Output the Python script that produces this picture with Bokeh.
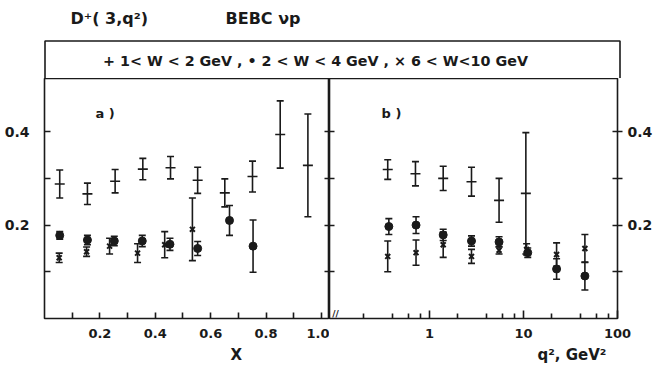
from bokeh.plotting import figure
from bokeh.models import (Range1d, FixedTicker, LinearAxis, LogAxis, Whisker,
                          TeeHead, ColumnDataSource, Label, Title)
from bokeh.layouts import column, row
from bokeh.embed import file_html
from bokeh.resources import INLINE
from bokeh.core.properties import value

# ---------------- data ----------------
# panel a) : versus x
xa_plus = [0.055, 0.155, 0.255, 0.355, 0.455, 0.553, 0.651, 0.751, 0.851, 0.951]
ya_plus = [0.288, 0.267, 0.294, 0.320, 0.323, 0.296, 0.269, 0.304, 0.394, 0.328]
ea_plus = [0.030, 0.023, 0.025, 0.023, 0.024, 0.028, 0.030, 0.033, 0.072, 0.110]

xa_dot = [0.055, 0.155, 0.252, 0.353, 0.453, 0.553, 0.668, 0.753]
ya_dot = [0.178, 0.168, 0.166, 0.166, 0.159, 0.150, 0.210, 0.155]
ea_dot = [0.008, 0.010, 0.010, 0.012, 0.013, 0.015, 0.032, 0.056]

xa_x = [0.053, 0.152, 0.235, 0.336, 0.434, 0.534]
ya_x = [0.130, 0.143, 0.155, 0.140, 0.158, 0.191]
ea_x = [0.010, 0.010, 0.017, 0.020, 0.028, 0.067]

# panel b) : versus q^2
q2_plus = [0.36, 0.71, 1.4, 2.8, 5.5, 10.6]
yb_plus = [0.319, 0.310, 0.300, 0.293, 0.253, 0.268]
eb_plus = [0.021, 0.026, 0.026, 0.031, 0.047, 0.130]

q2_dot = [0.37, 0.72, 1.4, 2.8, 5.5, 11.1, 22.5, 45]
yb_dot = [0.197, 0.200, 0.179, 0.166, 0.164, 0.141, 0.106, 0.091]
eb_dot = [0.017, 0.018, 0.012, 0.011, 0.011, 0.010, 0.022, 0.030]

q2_x = [0.36, 0.72, 1.4, 2.8, 5.5, 10.8, 22.5, 45]
yb_x = [0.133, 0.141, 0.158, 0.133, 0.146, 0.148, 0.137, 0.150]
eb_x = [0.033, 0.027, 0.027, 0.015, 0.008, 0.012, 0.025, 0.030]

x_ticks = [0.1, 0.2, 0.3, 0.4, 0.5, 0.6, 0.7, 0.8, 0.9, 1.0]
x_tick_labels = {0.2: "0.2", 0.4: "0.4", 0.6: "0.6", 0.8: "0.8", 1.0: "1.0"}
q2_ticks = [1, 10, 100]
q2_minor = [0.2, 0.4, 0.6, 0.8, 2, 4, 6, 8, 20, 40, 60, 80]
q2_tick_labels = {1: "1", 10: "10", 100: "100"}
y_ticks = [0.1, 0.2, 0.3, 0.4]
y_tick_labels = {0.2: "0.2", 0.4: "0.4"}

title_text = "D\u207a( 3,q\u00b2)"
title_text2 = "BEBC \u03bdp"
legend_text = "+ 1< W < 2 GeV ,  \u2022 2 < W < 4 GeV ,  \u00d7 6 < W<10 GeV"
xa_label = "X"
xb_label = "q\u00b2, GeV\u00b2"

FONT = "DejaVu Sans"
INK = "#1a1a1a"
LW = 1.6


def clean(p):
    p.grid.visible = False
    p.outline_line_color = INK
    p.outline_line_width = LW
    p.background_fill_color = "white"
    p.border_fill_color = "white"


def style_axis(ax, size="13px"):
    ax.axis_line_color = None
    ax.major_tick_line_color = INK
    ax.major_tick_line_width = LW
    ax.minor_tick_line_color = INK
    ax.minor_tick_line_width = LW
    ax.major_label_text_font = FONT
    ax.major_label_text_font_style = "bold"
    ax.major_label_text_font_size = size
    ax.major_label_text_color = INK


def errbars(p, xs, ys, es, marker, size, lw, head=7):
    src = ColumnDataSource(dict(x=xs, y=ys,
                                lo=[y - e for y, e in zip(ys, es)],
                                hi=[y + e for y, e in zip(ys, es)]))
    w = Whisker(source=src, base="x", lower="lo", upper="hi",
                line_color=INK, line_width=LW,
                lower_head=TeeHead(size=head, line_color=INK, line_width=LW),
                upper_head=TeeHead(size=head, line_color=INK, line_width=LW))
    p.add_layout(w)
    p.scatter("x", "y", source=src, marker=marker, size=size,
              line_color=INK, fill_color=INK, line_width=lw)


# ---------------- header ----------------
hdr = figure(width=655, height=78, x_range=Range1d(0, 655), y_range=Range1d(78, 0),
             output_backend="svg", toolbar_location=None,
             x_axis_location=None, y_axis_location=None,
             min_border=0, min_border_left=0, min_border_right=0,
             min_border_top=0, min_border_bottom=0)
hdr.grid.visible = False
hdr.outline_line_color = None
hdr.line([44.5, 44.5, 619.5, 619.5], [79, 40.5, 40.5, 79], line_color=INK, line_width=LW)
hdr.text([70], [18], text=[title_text], text_font=value(FONT), text_font_style="bold",
         text_font_size="16px", text_baseline="middle", text_color=INK)
hdr.text([225], [18], text=[title_text2], text_font=value(FONT), text_font_style="bold",
         text_font_size="16px", text_baseline="middle", text_color=INK)
hdr.text([320], [60], text=[legend_text], text_font=value(FONT), text_font_style="bold",
         text_font_size="14.3px", text_baseline="middle", text_align="center", text_color=INK)

# ---------------- panel a ----------------
fa = figure(width=329, height=297, x_range=Range1d(0, 1.029), y_range=Range1d(0, 0.514),
            output_backend="svg", toolbar_location=None,
            x_axis_location=None, y_axis_location=None,
            min_border_left=44, min_border_right=0, min_border_top=0, min_border_bottom=57)
clean(fa)

ax = LinearAxis(ticker=FixedTicker(ticks=x_ticks, minor_ticks=[]))
ax.major_label_overrides = {t: x_tick_labels.get(round(t, 1), "") for t in x_ticks}
style_axis(ax)
ax.major_tick_in = 6
ax.major_tick_out = 0
ax.major_label_standoff = 10
fa.add_layout(ax, "below")
fa.add_layout(Title(text=xa_label, align="left", offset=186, standoff=7,
                    text_font=FONT, text_font_style="bold", text_font_size="15px",
                    text_color=INK), "below")

ay = LinearAxis(ticker=FixedTicker(ticks=y_ticks, minor_ticks=[]))
ay.major_label_overrides = {t: y_tick_labels.get(t, "") for t in y_ticks}
style_axis(ay, "14px")
ay.major_tick_in = 6
ay.major_tick_out = 0
ay.major_label_standoff = 15
fa.add_layout(ay, "left")

ay2 = LinearAxis(ticker=FixedTicker(ticks=y_ticks, minor_ticks=[]))
ay2.major_label_overrides = {t: "" for t in y_ticks}
style_axis(ay2, "0px")
ay2.major_tick_in = 5
ay2.major_tick_out = 0
ay2.major_label_standoff = 0
fa.add_layout(ay2, "right")

errbars(fa, xa_plus, ya_plus, ea_plus, "dash", 10, LW)
errbars(fa, xa_dot, ya_dot, ea_dot, "circle", 8, 1)
errbars(fa, xa_x, ya_x, ea_x, "x", 7, 2)

fa.add_layout(Label(x=0.184, y=0.439, text="a )", text_font=FONT, text_font_style="bold",
                    text_font_size="13px", text_baseline="middle", text_color=INK))

# ---------------- panel b ----------------
fb = figure(width=326, height=297, x_axis_type="log", x_range=Range1d(0.0865, 100),
            y_range=Range1d(0, 0.514), output_backend="svg", toolbar_location=None,
            x_axis_location=None, y_axis_location=None,
            min_border_left=0, min_border_right=35, min_border_top=0, min_border_bottom=57)
clean(fb)

bx = LogAxis(ticker=FixedTicker(ticks=q2_ticks, minor_ticks=q2_minor))
bx.major_label_overrides = q2_tick_labels
style_axis(bx)
bx.major_tick_in = 8
bx.major_tick_out = 0
bx.minor_tick_in = 5
bx.minor_tick_out = 0
bx.major_label_standoff = 10
fb.add_layout(bx, "below")
fb.add_layout(Title(text=xb_label, align="left", offset=208, standoff=7,
                    text_font=FONT, text_font_style="bold", text_font_size="15px",
                    text_color=INK), "below")

by = LinearAxis(ticker=FixedTicker(ticks=y_ticks, minor_ticks=[]))
by.major_label_overrides = {t: y_tick_labels.get(t, "") for t in y_ticks}
style_axis(by, "14px")
by.major_tick_in = 5
by.major_tick_out = 5
by.major_label_standoff = 5
fb.add_layout(by, "right")

by2 = LinearAxis(ticker=FixedTicker(ticks=y_ticks, minor_ticks=[]))
by2.major_label_overrides = {t: "" for t in y_ticks}
style_axis(by2, "0px")
by2.major_tick_in = 5
by2.major_tick_out = 0
by2.major_label_standoff = 0
fb.add_layout(by2, "left")

errbars(fb, q2_plus, yb_plus, eb_plus, "dash", 10, LW)
errbars(fb, q2_dot, yb_dot, eb_dot, "circle", 8, 1)
errbars(fb, q2_x, yb_x, eb_x, "x", 7, 2)

fb.add_layout(Label(x=0.31, y=0.439, text="b )", text_font=FONT, text_font_style="bold",
                    text_font_size="13px", text_baseline="middle", text_color=INK))
fb.add_layout(Label(x=0.1, y=0.0, text="//", text_font=FONT, text_font_style="bold",
                    text_font_size="9px", text_baseline="bottom", text_align="center",
                    text_color=INK))

layout = column(hdr, row(fa, fb))
open("out.html", "w").write(file_html(layout, INLINE))
